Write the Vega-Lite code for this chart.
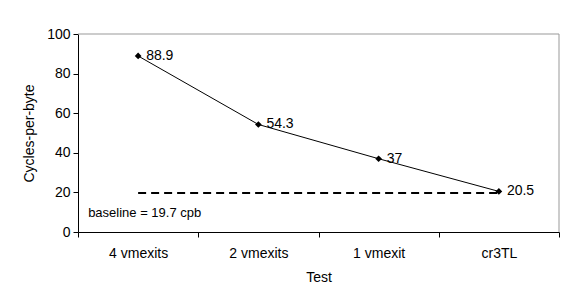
{
  "$schema": "https://vega.github.io/schema/vega-lite/v6.json",
  "width": 481,
  "height": 198,
  "autosize": {"type": "none"},
  "padding": {"left": 78, "top": 34, "right": 19, "bottom": 63},
  "background": "white",
  "config": {
    "font": "Liberation Sans",
    "view": {"stroke": null},
    "axis": {
      "domainColor": "#000000",
      "tickColor": "#000000",
      "labelColor": "#000000",
      "titleColor": "#000000",
      "labelFont": "Liberation Sans",
      "titleFont": "Liberation Sans",
      "labelFontSize": 14,
      "titleFontSize": 14,
      "titleFontWeight": "normal",
      "grid": false,
      "tickSize": 5
    }
  },
  "datasets": {
    "series": [
      {"Test": "4 vmexits", "cpb": 88.9, "label": "88.9"},
      {"Test": "2 vmexits", "cpb": 54.3, "label": "54.3"},
      {"Test": "1 vmexit", "cpb": 37, "label": "37"},
      {"Test": "cr3TL", "cpb": 20.5, "label": "20.5"}
    ],
    "baseline": [
      {"Test": "4 vmexits", "cpb": 19.7},
      {"Test": "cr3TL", "cpb": 19.7}
    ],
    "note": [
      {"Test": "4 vmexits", "cpb": 9.6, "text": "baseline = 19.7 cpb"}
    ],
    "frame": [
      {"Test": "cr3TL", "cpb": 100}
    ]
  },
  "encoding": {
    "x": {
      "field": "Test",
      "type": "nominal",
      "sort": ["4 vmexits", "2 vmexits", "1 vmexit", "cr3TL"],
      "scale": {"domain": ["4 vmexits", "2 vmexits", "1 vmexit", "cr3TL"], "paddingInner": 0, "paddingOuter": 0},
      "axis": {"labelAngle": 0, "tickBand": "extent", "labelPadding": 9, "titlePadding": 10, "title": "Test"}
    },
    "y": {
      "field": "cpb",
      "type": "quantitative",
      "scale": {"domain": [0, 100], "nice": false},
      "axis": {"values": [0, 20, 40, 60, 80, 100], "title": "Cycles-per-byte", "labelPadding": 3, "titlePadding": 10}
    }
  },
  "layer": [
    {
      "data": {"name": "frame"},
      "mark": {"type": "rule", "color": "#999999", "strokeWidth": 1},
      "encoding": {"x": null, "y": {"field": "cpb", "type": "quantitative"}}
    },
    {
      "data": {"name": "frame"},
      "mark": {"type": "rule", "color": "#999999", "strokeWidth": 1},
      "encoding": {"x": {"field": "Test", "type": "nominal", "bandPosition": 1}, "y": null}
    },
    {
      "data": {"name": "baseline"},
      "mark": {"type": "line", "color": "#000000", "strokeWidth": 2, "strokeDash": [8, 5]}
    },
    {
      "data": {"name": "series"},
      "mark": {"type": "line", "color": "#000000", "strokeWidth": 1}
    },
    {
      "data": {"name": "series"},
      "mark": {"type": "point", "shape": "diamond", "filled": true, "color": "#000000", "size": 45, "opacity": 1}
    },
    {
      "data": {"name": "series"},
      "mark": {"type": "text", "align": "left", "baseline": "middle", "dx": 8, "fontSize": 14, "color": "#000000"},
      "encoding": {"text": {"field": "label"}}
    },
    {
      "data": {"name": "note"},
      "mark": {"type": "text", "align": "left", "baseline": "middle", "dx": -50, "fontSize": 13, "color": "#000000"},
      "encoding": {"text": {"field": "text"}}
    }
  ]
}
